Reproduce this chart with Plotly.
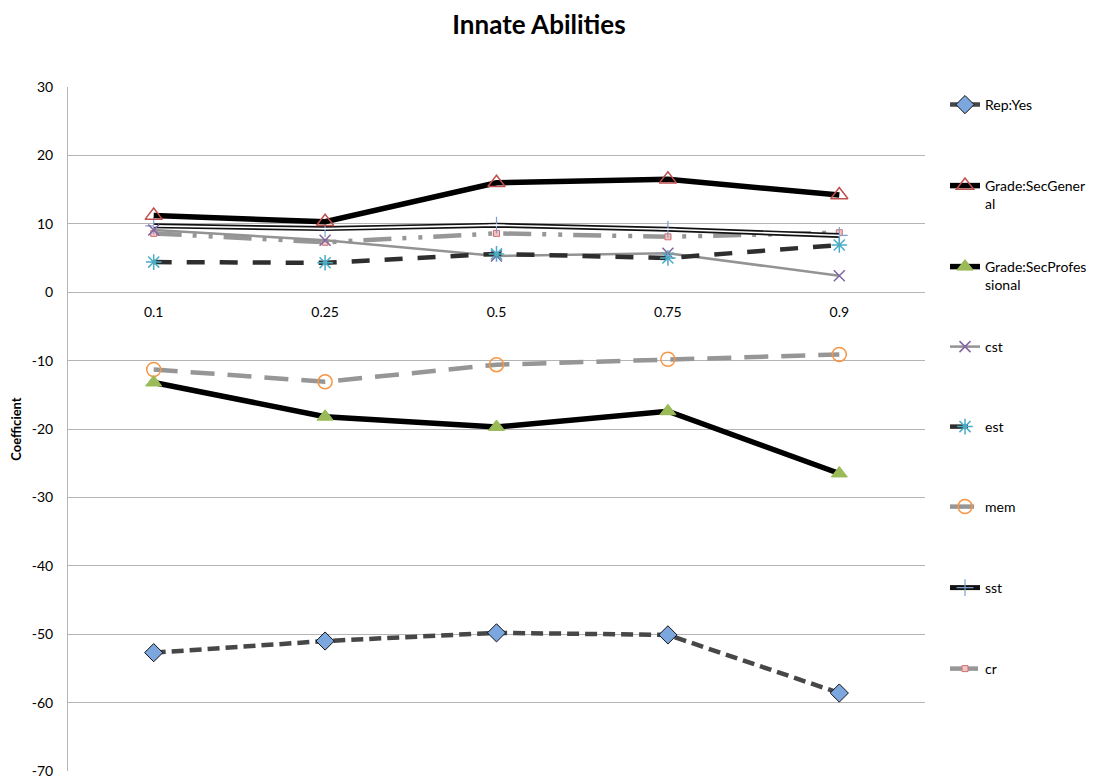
import plotly.graph_objects as go

quantiles = ["0.1", "0.25", "0.5", "0.75", "0.9"]
y_ticks = [30, 20, 10, 0, -10, -20, -30, -40, -50, -60, -70]

rep_yes = [-52.7, -51.0, -49.8, -50.1, -58.6]
grade_sec_general = [11.2, 10.3, 16.0, 16.5, 14.2]
grade_sec_professional = [-13.2, -18.2, -19.7, -17.4, -26.5]
cst = [9.1, 7.6, 5.3, 5.7, 2.4]
est = [4.4, 4.3, 5.6, 5.0, 6.9]
mem = [-11.3, -13.1, -10.6, -9.8, -9.1]
sst = [9.7, 9.3, 9.8, 9.2, 8.3]
cr = [8.6, 7.3, 8.6, 8.1, 8.7]

FONT = "Lato, 'Open Sans', sans-serif"
OFF = 8  # page body margin offset
W, H = 1115 - OFF, 782 - OFF
L, T = 68 - OFF, 87 - OFF
R = W - (925 - OFF)
B = H - (771 - OFF)
ph = H - T - B
pw = W - L - R


def legend_y(px):
    # px given in screen pixels
    return (H - B - (px - OFF)) / ph


fig = go.Figure()

fig.add_trace(go.Scatter(
    x=quantiles, y=cr, name="cr", mode="lines+markers", legend="legend8",
    line=dict(color="#979797", width=4.5, dash="28px,11px,4px,12px,4px,11px"),
    marker=dict(symbol="square", size=6, color="#f2c4c4",
                line=dict(color="#d07070", width=1))))
fig.add_trace(go.Scatter(
    x=quantiles, y=sst, name="sst", mode="lines+markers", legend="legend7",
    line=dict(color="#111111", width=5),
    marker=dict(symbol="cross-thin", size=12, color="#7f9fcf",
                line=dict(color="#7f9fcf", width=1.2))))
fig.add_trace(go.Scatter(
    x=quantiles, y=sst, name="sst", mode="lines", showlegend=False,
    line=dict(color="#ffffff", width=1.6)))
fig.add_trace(go.Scatter(
    x=quantiles, y=cst, name="cst", mode="lines+markers", legend="legend4",
    line=dict(color="#939393", width=2.5),
    marker=dict(symbol="x-thin", size=11, color="#8064a2",
                line=dict(color="#8064a2", width=1.5))))
fig.add_trace(go.Scatter(
    x=quantiles, y=est, name="est", mode="lines+markers", legend="legend5",
    line=dict(color="#2e2e2e", width=4.5, dash="18px,15px"),
    marker=dict(symbol="asterisk", size=13, color="#4bacc6",
                line=dict(color="#4bacc6", width=1.5))))
fig.add_trace(go.Scatter(
    x=quantiles, y=mem, name="mem", mode="lines+markers", legend="legend6",
    line=dict(color="#969696", width=4.5, dash="24px,13px"),
    marker=dict(symbol="circle-open", size=14, color="#f79646",
                line=dict(color="#f79646", width=1.5))))
fig.add_trace(go.Scatter(
    x=quantiles, y=grade_sec_general, name="Grade:SecGener<br>al", mode="lines+markers",
    legend="legend2",
    line=dict(color="#000000", width=5.5),
    marker=dict(symbol="triangle-up-open", size=15, color="#c0504d",
                line=dict(color="#c0504d", width=1.5))))
fig.add_trace(go.Scatter(
    x=quantiles, y=grade_sec_professional, name="Grade:SecProfes<br>sional",
    mode="lines+markers", legend="legend3",
    line=dict(color="#000000", width=5.5),
    marker=dict(symbol="triangle-up", size=14, color="#9bbb59",
                line=dict(color="#9bbb59", width=1))))
fig.add_trace(go.Scatter(
    x=quantiles, y=rep_yes, name="Rep:Yes", mode="lines+markers", legend="legend",
    line=dict(color="#474747", width=4.5, dash="12px,6px"),
    marker=dict(symbol="diamond", size=14, color="#7ba7de",
                line=dict(color="#111111", width=1))))

legend_positions = {
    "legend": 105, "legend2": 186, "legend3": 267, "legend4": 347,
    "legend5": 427, "legend6": 507, "legend7": 588, "legend8": 669,
}
leg_x = ((945 - OFF) - L) / pw
for key, py in legend_positions.items():
    fig.layout[key] = dict(
        x=leg_x, xanchor="left", y=legend_y(py - 16), yanchor="top",
        bgcolor="rgba(0,0,0,0)", borderwidth=0, valign="top",
        font=dict(family=FONT, size=14, color="#000000"),
        itemwidth=30, tracegroupgap=0)

fig.update_layout(
    width=W, height=H,
    margin=dict(l=L, r=R, t=T, b=B, autoexpand=False),
    paper_bgcolor="white", plot_bgcolor="white",
    title=dict(text="<b>Innate Abilities</b>", x=(539 - OFF) / W, xanchor="center",
               xref="container", y=1 - (25 - OFF) / H, yanchor="middle",
               font=dict(family=FONT, size=26, color="#000000")),
    font=dict(family=FONT, size=14, color="#000000"),
    xaxis=dict(
        type="category", categoryorder="array", categoryarray=quantiles,
        range=[-0.5, 4.5], anchor="free", position=0.7,
        showgrid=False, zeroline=False, showline=False,
        ticks="outside", ticklen=7, tickcolor="rgba(0,0,0,0)",
        tickfont=dict(family=FONT, size=14, color="#000000")),
    yaxis=dict(
        range=[-70, 30], tickvals=y_ticks, ticktext=[str(v) for v in y_ticks],
        showgrid=True, gridcolor="#b5b5b5", gridwidth=1,
        zeroline=True, zerolinecolor="#b5b5b5", zerolinewidth=1,
        showline=True, linecolor="#b5b5b5", linewidth=1,
        ticks="", ticklabelstandoff=11,
        tickfont=dict(family=FONT, size=14, color="#000000"),
        title=dict(text="<b>Coefficient</b>", standoff=8,
                   font=dict(family=FONT, size=13, color="#000000"))),
)

fig.write_html("out.html")
